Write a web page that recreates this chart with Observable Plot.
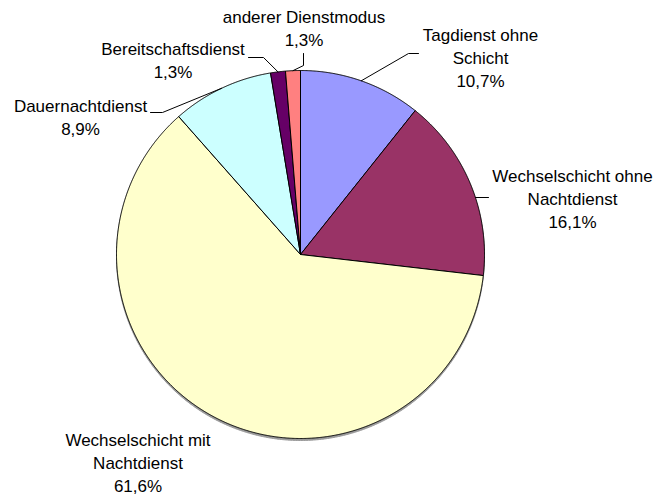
<!DOCTYPE html>
<html>
<head>
<meta charset="utf-8">
<script src="https://cdn.jsdelivr.net/npm/d3@7"></script>
<script src="https://cdn.jsdelivr.net/npm/@observablehq/plot@0.6"></script>
<style>
  html, body { margin: 0; padding: 0; background: #fff; }
  #chart svg { display: block; }
</style>
</head>
<body>
<div id="chart"></div>
<script>
// ---- data ----
const categories = [
  "Tagdienst ohne Schicht",
  "Wechselschicht ohne Nachtdienst",
  "Wechselschicht mit Nachtdienst",
  "Dauernachtdienst",
  "Bereitschaftsdienst",
  "anderer Dienstmodus"
];
const values = [10.7, 16.1, 61.6, 8.9, 1.3, 1.3];
const labelLines = [
  ["Tagdienst ohne", "Schicht"],
  ["Wechselschicht ohne", "Nachtdienst"],
  ["Wechselschicht mit", "Nachtdienst"],
  ["Dauernachtdienst"],
  ["Bereitschaftsdienst"],
  ["anderer Dienstmodus"]
];
const colors = ["#9999FF", "#993366", "#FFFFCC", "#CCFFFF", "#660066", "#FF8080"];

// ---- layout (pixels) ----
const W = 653, H = 495;
const pie = {cx: 300, cy: 254, r: 184, shadow: 2};
const labelPos = [[480, 86], [572, 227], [137.5, 491], [80, 134], [172.5, 77], [303.5, 45]];
// leader polylines from label side; last point is computed on the pie edge
const leaders = [
  {pts: [[418, 53], [408, 53]]},
  {pts: [[488, 197]], horizontal: true},
  null,
  {pts: [[150, 112], [162, 112]]},
  {pts: [[248, 57], [263, 57]]},
  {pts: [[303, 53], [303, 65]]}
];

const fmt = v => v.toFixed(1).replace(".", ",") + "%";
const arcs = d3.pie().sort(null).value(d => d).startAngle(0).endAngle(2 * Math.PI)(values);
const px = a => pie.cx + pie.r * Math.sin(a);
const py = a => pie.cy - pie.r * Math.cos(a);

// soft shadow under the pie
const shadowPts = d3.range(0, 721).map(k => {
  const t = k * Math.PI / 360;
  return {x: px(t), y: py(t) + pie.shadow};
});

// wedge outlines
const wedgeMarks = arcs.map((a, i) => {
  const pts = [{x: pie.cx, y: pie.cy}];
  const step = Math.PI / 720;
  for (let t = a.startAngle; t < a.endAngle; t += step) pts.push({x: px(t), y: py(t)});
  pts.push({x: px(a.endAngle), y: py(a.endAngle)});
  pts.push({x: pie.cx, y: pie.cy});
  return Plot.line(pts, {x: "x", y: "y", fill: colors[i], stroke: "#000", strokeWidth: 1, strokeLinejoin: "round"});
});

// leader lines
const leaderPts = [];
leaders.forEach((L, i) => {
  if (!L) return;
  L.pts.forEach(p => leaderPts.push({cat: categories[i], x: p[0], y: p[1]}));
  const a = arcs[i];
  let end;
  if (L.horizontal) {
    const yy = L.pts[L.pts.length - 1][1];
    const dx = Math.sqrt(pie.r * pie.r - (yy - pie.cy) ** 2);
    end = {x: pie.cx + dx, y: yy};
  } else {
    const m = (a.startAngle + a.endAngle) / 2;
    end = {x: px(m), y: py(m)};
  }
  leaderPts.push({cat: categories[i], ...end});
});

const labels = categories.map((c, i) => ({
  text: [...labelLines[i], fmt(values[i])].join("\n"),
  x: labelPos[i][0],
  y: labelPos[i][1]
}));

const chart = Plot.plot({
  width: W,
  height: H,
  margin: 0,
  x: {domain: [0, W], range: [0, W], axis: null},
  y: {domain: [0, H], range: [0, H], axis: null},
  style: {background: "#fff"},
  marks: [
    Plot.line(shadowPts, {x: "x", y: "y", fill: "#9a9a9a", stroke: "#9a9a9a", strokeWidth: 1}),
    ...wedgeMarks,
    Plot.line(leaderPts, {x: "x", y: "y", z: "cat", stroke: "#000", strokeWidth: 1}),
    Plot.text(labels, {
      x: "x", y: "y", text: "text",
      textAnchor: "middle", lineAnchor: "bottom", lineHeight: 23 / 17,
      fontSize: 17, fontFamily: "'Liberation Sans', Arial, sans-serif", fill: "#000"
    })
  ]
});
document.getElementById("chart").appendChild(chart);
</script>
</body>
</html>
